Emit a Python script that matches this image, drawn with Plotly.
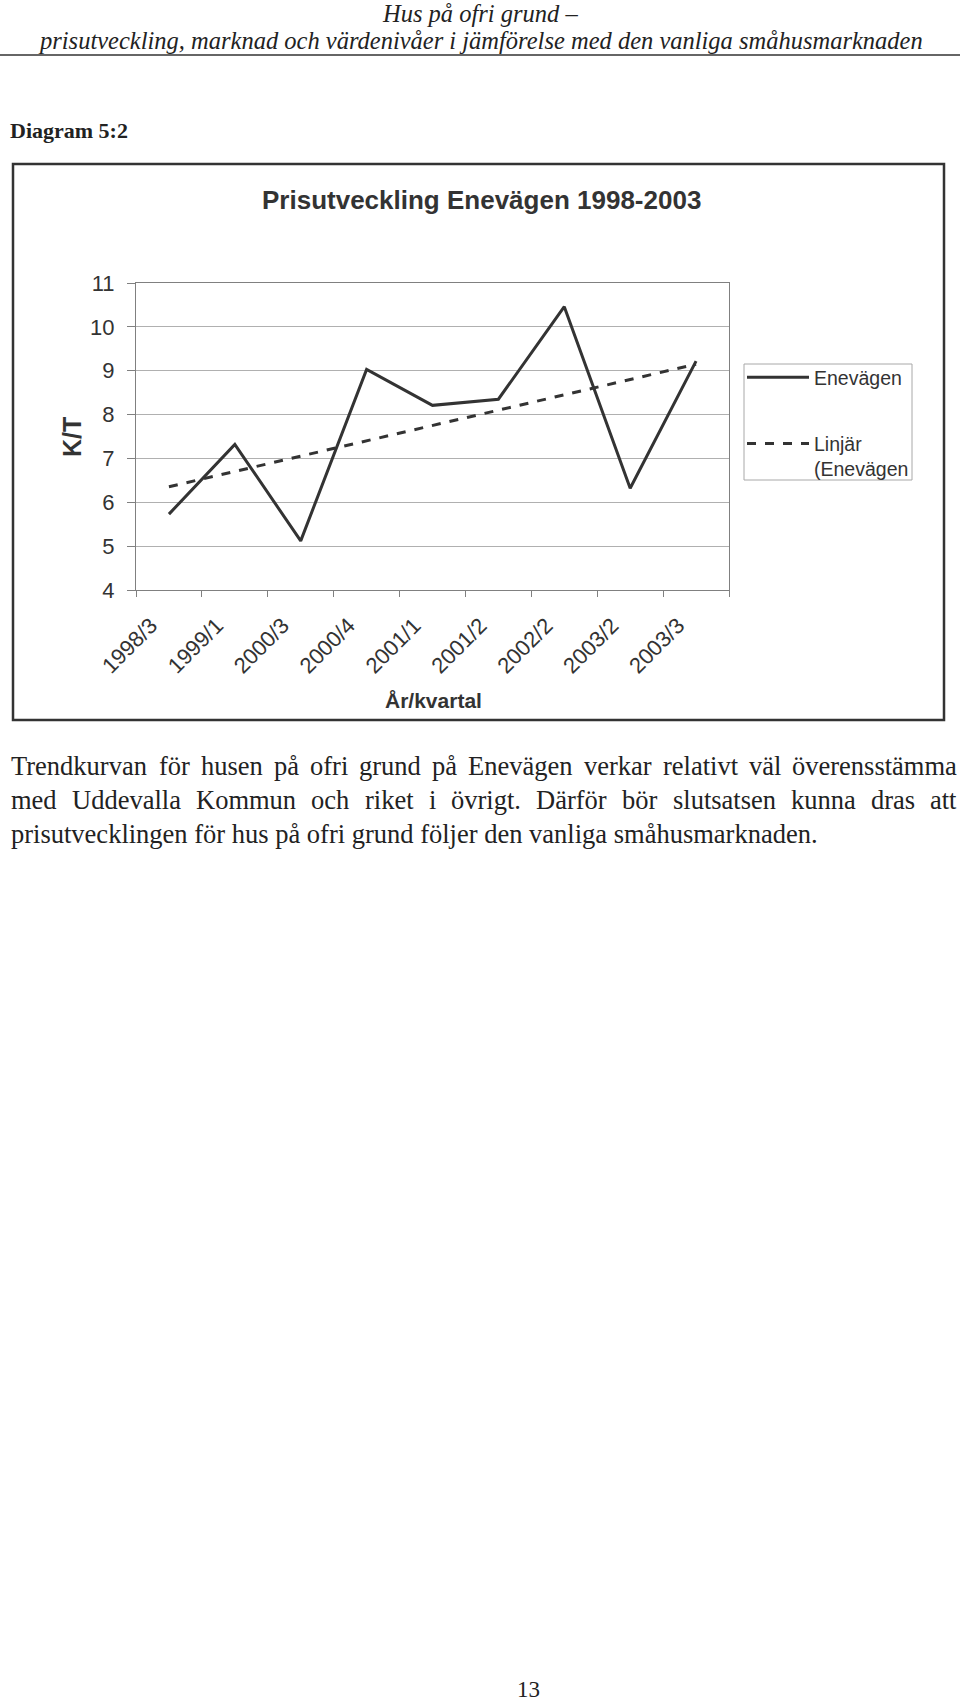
import numpy as np
import plotly.graph_objects as go

W, H = 960, 1706

# ---- data ----
quarters = ["1998/3", "1999/1", "2000/3", "2000/4", "2001/1", "2001/2", "2002/2", "2003/2", "2003/3"]
kt_values = [5.73, 7.32, 5.12, 9.03, 8.21, 8.35, 10.46, 6.32, 9.22]
series_name = "Enevägen"
trend_name = "Linjär<br>(Enevägen"
chart_title = "Prisutveckling Enevägen 1998-2003"
y_title = "K/T"
x_title = "År/kvartal"
y_ticks = [4, 5, 6, 7, 8, 9, 10, 11]

header_1 = "Hus på ofri grund –"
header_2 = "prisutveckling, marknad och värdenivåer i jämförelse med den vanliga småhusmarknaden"
caption = "Diagram 5:2"
body_lines = [
    "Trendkurvan för husen på ofri grund på Enevägen verkar relativt väl överensstämma",
    "med Uddevalla Kommun och riket i övrigt. Därför bör slutsatsen kunna dras att",
    "prisutvecklingen för hus på ofri grund följer den vanliga småhusmarknaden.",
]
page_no = "13"

# linear trendline (least squares, as in the source spreadsheet)
idx = np.arange(1, len(kt_values) + 1)
slope, intercept = np.polyfit(idx, kt_values, 1)
trend = slope * idx + intercept


def px(x):
    return x / W


def py(y):
    return 1 - y / H


CH = "Liberation Sans, Arial, sans-serif"
SER = "Liberation Serif, Times New Roman, serif"
INK = "#333333"
TXT = "#222222"

fig = go.Figure()
fig.add_trace(go.Scatter(x=quarters, y=kt_values, mode="lines", name=series_name,
                         line=dict(color=INK, width=3), legendgroup="a"))
fig.add_trace(go.Scatter(x=quarters, y=trend, mode="lines", name=trend_name,
                         line=dict(color=INK, width=3, dash="dash"), legendgroup="b"))

fig.update_layout(
    width=W, height=H, margin=dict(l=0, r=0, t=0, b=0, pad=0, autoexpand=False),
    paper_bgcolor="white", plot_bgcolor="white",
    showlegend=True,
    legend=dict(x=px(742), y=py(358), xanchor="left", yanchor="top",
                borderwidth=0, bgcolor="rgba(0,0,0,0)",
                font=dict(family=CH, size=19.5, color=INK),
                tracegroupgap=38, valign="top", itemwidth=62),
    xaxis=dict(domain=[px(136), px(729)], type="category", range=[-0.5, len(quarters) - 0.5],
               automargin=False,
               showline=True, linecolor="#808080", linewidth=1, mirror=True,
               ticks="outside", tickson="boundaries", ticklen=6, tickcolor="#808080",
               tickangle=-45, ticklabelstandoff=13, ticklabelshift=-18,
               tickfont=dict(family=CH, size=22, color=INK),
               showgrid=False, zeroline=False),
    yaxis=dict(domain=[py(590), py(283)], range=[4, 11], tickvals=y_ticks, automargin=False,
               showline=True, linecolor="#808080", linewidth=1, mirror=True,
               ticks="outside", ticklen=8, tickcolor="#808080", ticklabelstandoff=8,
               tickfont=dict(family=CH, size=22, color=INK),
               showgrid=True, gridcolor="#b0b0b0", gridwidth=1, zeroline=False),
)

shapes = [
    # header rule
    dict(type="line", xref="paper", yref="paper", x0=0, x1=1, y0=py(55), y1=py(55),
         line=dict(color=INK, width=1.5)),
    # chart frame
    dict(type="rect", xref="paper", yref="paper", x0=px(13), x1=px(944), y0=py(720), y1=py(164),
         line=dict(color=INK, width=2.5)),
    # legend frame
    dict(type="rect", xref="paper", yref="paper", x0=px(744), x1=px(912), y0=py(480), y1=py(364),
         line=dict(color="#a8a8a8", width=1)),
]
fig.update_layout(shapes=shapes)

ann = []


def A(text, x, y, size, family, xanchor="center", yanchor="middle", angle=0, color=INK):
    ann.append(dict(text=text, x=px(x), y=py(y), xref="paper", yref="paper",
                    xanchor=xanchor, yanchor=yanchor, showarrow=False, textangle=angle,
                    font=dict(family=family, size=size, color=color)))


A("<i>" + header_1 + "</i>", 480, 14, 24.5, SER, color=TXT)
A("<i>" + header_2 + "</i>", 480, 40, 24.5, SER, color=TXT)
A("<b>" + caption + "</b>", 8, 130, 22, SER, xanchor="left", color=TXT)
A("<b>" + chart_title + "</b>", 481, 200, 26, CH)
A("<b>" + y_title + "</b>", 72, 437, 25, CH, angle=-90)
A("<b>" + x_title + "</b>", 433, 701, 21, CH)

# ---- justified body text (Times metrics, 1/1000 em) ----
TW = {" ": 250, ".": 250, ",": 250,
      "D": 722, "E": 611, "K": 722, "T": 611, "U": 722,
      "a": 444, "b": 500, "c": 444, "d": 500, "e": 444, "f": 333, "g": 500, "h": 500, "i": 278,
      "j": 278, "k": 500, "l": 278, "m": 778, "n": 500, "o": 500, "p": 500, "r": 333, "s": 389,
      "t": 278, "u": 500, "v": 500, "ä": 444, "å": 444, "ö": 500}
BODY_SIZE = 26.5
LEFT, RIGHT = 9, 955
BODY_Y = [766, 800, 834]


def wwidth(word):
    return sum(TW.get(c, 500) for c in word) / 1000 * BODY_SIZE


for i, (line, yy) in enumerate(zip(body_lines, BODY_Y)):
    if i == len(body_lines) - 1:
        A(line, LEFT, yy, BODY_SIZE, SER, xanchor="left", color=TXT)
        continue
    words = line.split(" ")
    total = sum(wwidth(w) for w in words)
    gap = (RIGHT - LEFT - total) / (len(words) - 1)
    x = LEFT
    for w in words:
        A(w, x, yy, BODY_SIZE, SER, xanchor="left", color=TXT)
        x += wwidth(w) + gap

A(page_no, 528, 1689, 23, SER, color=TXT)

fig.update_layout(annotations=ann)
fig.write_html("out.html")
